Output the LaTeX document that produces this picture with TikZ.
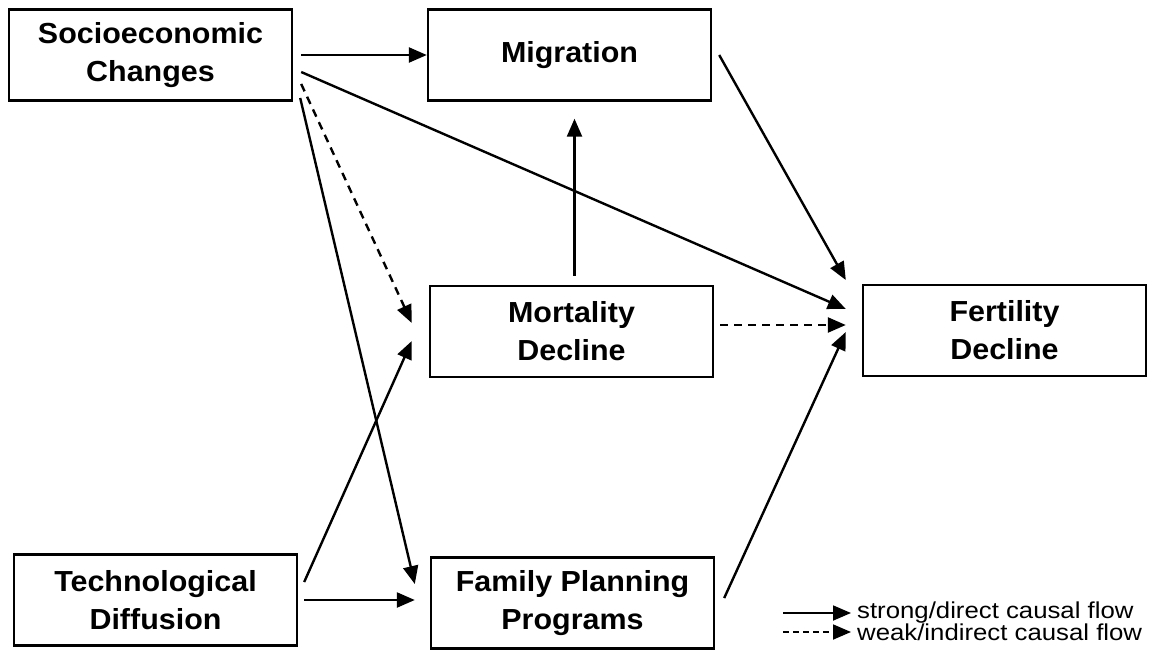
\documentclass[tikz,border=0pt]{standalone}
\usepackage{fontspec}
\setmainfont{Liberation Sans}
\usetikzlibrary{arrows.meta,calc}
\tikzstyle{box}=[draw, line width=2.4pt, minimum width=283pt, minimum height=91pt, align=center, font=\fontsize{29}{38}\selectfont\bfseries\addfontfeatures{FakeStretch=1.05}, inner sep=0pt]
\tikzstyle{flow}=[line width=2.4pt, -{Triangle[length=18pt,width=15pt]}]
\tikzstyle{weak}=[flow, dash pattern=on 8pt off 6pt]
\tikzstyle{legtext}=[anchor=west, inner sep=0pt, font=\fontsize{23}{23}\selectfont\addfontfeatures{FakeStretch=1.12}]

\begin{document}
\begin{tikzpicture} [x=1pt, y=-1pt]
%%frame
\useasboundingbox (0,0) rectangle (1160,656);
%%boxes
\node[box] (socio) at (150.5,55) {Socioeconomic\\Changes};
\node[box] (migr) at (569.5,55) {Migration};
\node[box] (mort) at (571.5,331.5) {Mortality\\Decline};
\node[box] (fert) at (1004.5,330.5) {Fertility\\Decline};
\node[box] (tech) at (155.5,600) {Technological\\Diffusion};
\node[box] (famplan) at (572.5,603) {Family Planning\\Programs};
%%arrows
\draw[flow] ($(socio.east)+(8,0)$) -- (migr.west);
\draw[flow] ($(socio.east)+(8,17)$) -- ($(fert.west)+(-16,-21.5)$);
\draw[weak] ($(socio.east)+(8,29)$) -- ($(mort.west)+(-17,-8.5)$);
\draw[flow] ($(socio.east)+(7,43)$) -- ($(famplan.west)+(-15,-19)$);
\draw[flow] ($(migr.east)+(7,0)$) -- ($(fert.west)+(-16,-50.5)$);
\draw[flow] ($(mort.north)+(3,-9)$) -- ($(migr.south)+(5,17)$);
\draw[weak] ($(mort.east)+(6,-6.5)$) -- ($(fert.west)+(-16,-5.5)$);
\draw[flow] ($(tech.east)+(6,-18)$) -- ($(mort.west)+(-17,9.5)$);
\draw[flow] ($(tech.east)+(6,0)$) -- ($(famplan.west)+(-15,-3)$);
\draw[flow] ($(famplan.east)+(9,-5)$) -- ($(fert.west)+(-16,1.5)$);
%%legend
\coordinate (legs1) at (783,613);
\coordinate (legs2) at (783,632);
\node[legtext] (leg1) at (857,613) {strong/direct causal flow};
\node[legtext] (leg2) at (857,632) {weak/indirect causal flow};
\draw[flow, line width=1.8pt, shorten >=6pt] (legs1) -- (leg1.west);
\draw[weak, line width=1.8pt, shorten >=6pt, dash pattern=on 6pt off 4pt] (legs2) -- (leg2.west);
\end{tikzpicture}
\end{document}
